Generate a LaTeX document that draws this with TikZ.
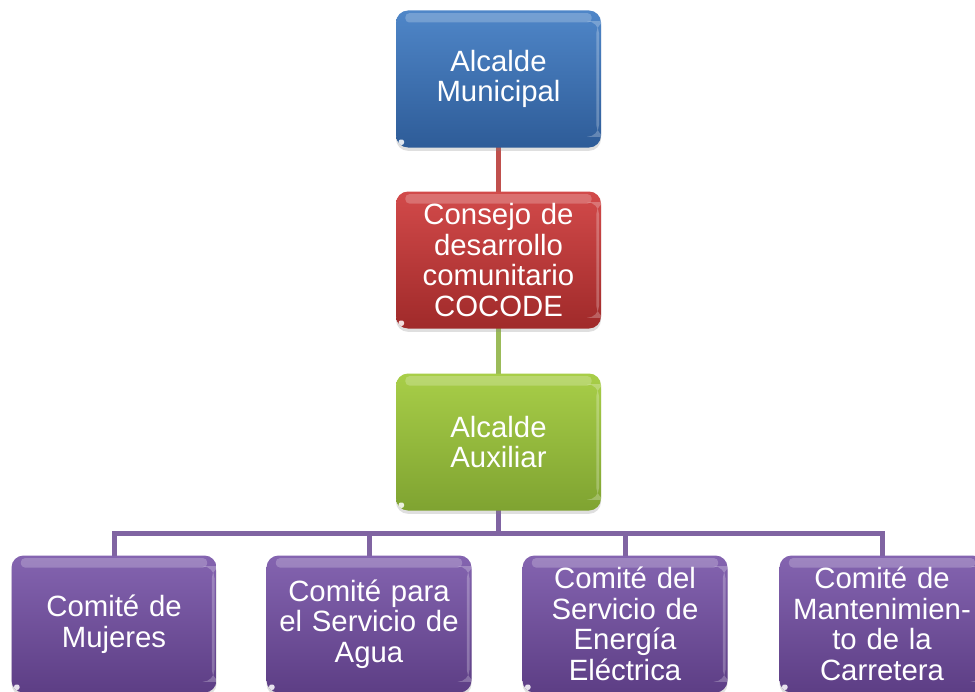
\documentclass[tikz,border=0pt]{standalone}
\usepackage{fontspec}
\setmainfont[WordSpace=0.85]{Liberation Sans}
\usetikzlibrary{shadows,positioning}
\definecolor{blueT}{HTML}{4F86C8}
\definecolor{blueB}{HTML}{2E5C98}
\definecolor{redT}{HTML}{D24A4A}
\definecolor{redB}{HTML}{A02A2A}
\definecolor{greenT}{HTML}{A8CE48}
\definecolor{greenB}{HTML}{7FA331}
\definecolor{purpT}{HTML}{8464B0}
\definecolor{purpB}{HTML}{5D3E85}
\definecolor{lnRed}{HTML}{C0504D}
\definecolor{lnGreen}{HTML}{9BBB59}
\definecolor{lnPurp}{HTML}{8064A2}
\tikzset{
  orgbox/.style={rounded corners=9pt, minimum width=153.75pt, minimum height=102.75pt,
    text width=148pt, align=center, text=white, inner sep=0pt,
    font=\fontsize{22}{23}\selectfont,
    drop shadow={shadow xshift=0pt, shadow yshift=-2.5pt, opacity=0.25},
    path picture={
      \fill[white,opacity=0.22,rounded corners=3pt]
        ([xshift=7pt,yshift=-2pt]path picture bounding box.north west) rectangle
        ([xshift=-7pt,yshift=-9pt]path picture bounding box.north east);
      \fill[white,opacity=0.25]
        ([xshift=-3.5pt,yshift=-8pt]path picture bounding box.north east) rectangle
        ([xshift=-1.5pt,yshift=8pt]path picture bounding box.south east);
      \fill[white,opacity=0.85,rounded corners=1.5pt]
        ([xshift=2pt,yshift=2pt]path picture bounding box.south west) rectangle
        ([xshift=6pt,yshift=6pt]path picture bounding box.south west);
    }},
  bluebox/.style={orgbox, top color=blueT, bottom color=blueB},
  redbox/.style={orgbox, top color=redT, bottom color=redB},
  greenbox/.style={orgbox, top color=greenT, bottom color=greenB},
  purpbox/.style={orgbox, top color=purpT, bottom color=purpB},
  conn/.style={line width=3.75pt}
}
\begin{document}
\begin{tikzpicture}[x=0.75pt,y=-0.75pt]
\useasboundingbox (0,0) rectangle (975,692);
\fill[white] (0,0) rectangle (975,692);
% connectors first
\coordinate (topc) at (498.5,79);
\coordinate (redc) at (498.5,260);
\coordinate (grnc) at (498.5,442);
\coordinate (bus) at (498.5,533);
\draw[conn,lnRed] (topc) -- (redc);
\draw[conn,lnGreen] (redc) -- (grnc);
\coordinate (c1) at (114,624);
\coordinate (c2) at (369,624);
\coordinate (c3) at (625,624);
\coordinate (c4) at (882,624);
\draw[conn,lnPurp] (grnc) -- (bus);
\draw[conn,lnPurp] (bus) -| (c1);
\draw[conn,lnPurp] (bus) -| (c2);
\draw[conn,lnPurp] (bus) -| (c3);
\draw[conn,lnPurp] (bus) -| (c4);
% boxes
\node[bluebox] (top) at (topc) {Alcalde\\Municipal};
\node[redbox] (red) at (redc) {Consejo de\\desarrollo\\comunitario\\COCODE};
\node[greenbox] (grn) at (grnc) {Alcalde\\Auxiliar};
\node[purpbox] (b1) at (c1) {Comité de\\Mujeres};
\node[purpbox] (b2) at (c2) {Comité para\\el Servicio de\\Agua};
\node[purpbox] (b3) at (c3) {Comité del\\Servicio de\\Energía\\Eléctrica};
\node[purpbox] (b4) at (c4) {Comité de\\Mantenimien-\\to de la\\Carretera};
\end{tikzpicture}
\end{document}
